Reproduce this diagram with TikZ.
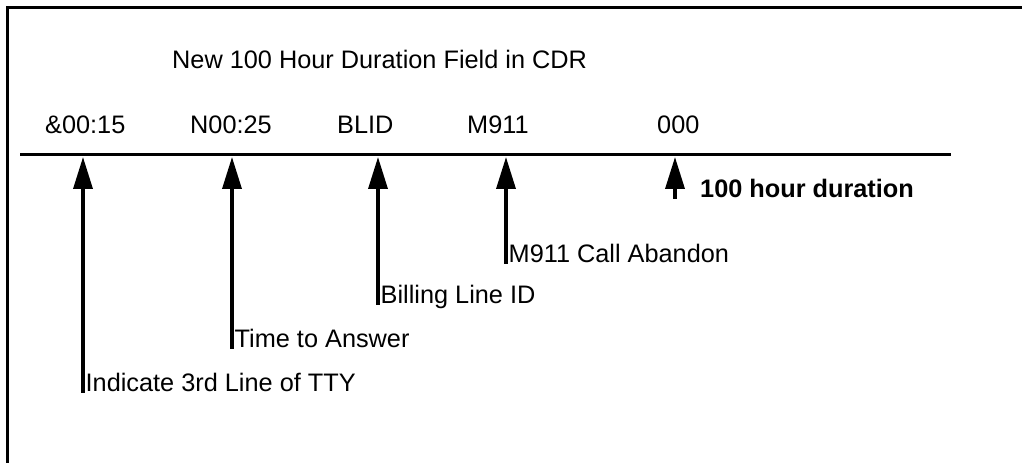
\documentclass[tikz,border=0pt]{standalone}
\usepackage{fontspec}
\setmainfont{Liberation Sans}
\usetikzlibrary{arrows.meta}
\begin{document}
\begin{tikzpicture}[x=1bp,y=-1bp,
  txt/.style={inner sep=0pt,anchor=base west,font=\fontsize{25.3bp}{29bp}\selectfont},
  boldtxt/.style={txt,font=\fontsize{25.3bp}{29bp}\selectfont\bfseries},
  pointer/.style={line width=3.5bp,-{Triangle[length=32bp,width=19bp]}},
  frame/.style={line width=2.5bp},
  rule/.style={line width=3bp}]
\useasboundingbox (0,0) rectangle (1023,463);
% frame (cropped box)
\coordinate (fbl) at (7.5,470);
\coordinate (ftl) at (7.5,7.5);
\coordinate (ftr) at (1022,7.5);
\draw[frame] (fbl) -- (ftl) -- (ftr);
% title
\node[txt] (title) at (172,69) {New 100 Hour Duration Field in CDR};
% field labels
\node[txt] (f1) at (45,134) {\&00:15};
\node[txt] (f2) at (190,134) {N00:25};
\node[txt] (f3) at (337,134) {BLID};
\node[txt] (f4) at (467,134) {M911};
\node[txt] (f5) at (657,134) {000};
% record line
\coordinate (ls) at (20,155);
\coordinate (le) at (951,155);
\draw[rule] (ls) -- (le);
% arrow tips
\coordinate (t1) at (83,157);
\coordinate (t2) at (232,157);
\coordinate (t3) at (378,157);
\coordinate (t4) at (506,157);
\coordinate (t5) at (675,157);
% arrow tails
\coordinate (b1) at (83,393);
\coordinate (b2) at (232,349);
\coordinate (b3) at (378,305);
\coordinate (b4) at (506,264);
\coordinate (b5) at (675,199);
% descriptions
\node[txt] (d1) at (85.5,392) {Indicate 3rd Line of TTY};
\node[txt] (d2) at (234.5,348) {Time to Answer};
\node[txt] (d3) at (380.5,304) {Billing Line ID};
\node[txt] (d4) at (508.5,263) {M911 Call Abandon};
\node[boldtxt] (d5) at (700,198) {100 hour duration};
\foreach \i in {1,...,5} \draw[pointer] (b\i) -- (t\i);
\end{tikzpicture}
\end{document}
